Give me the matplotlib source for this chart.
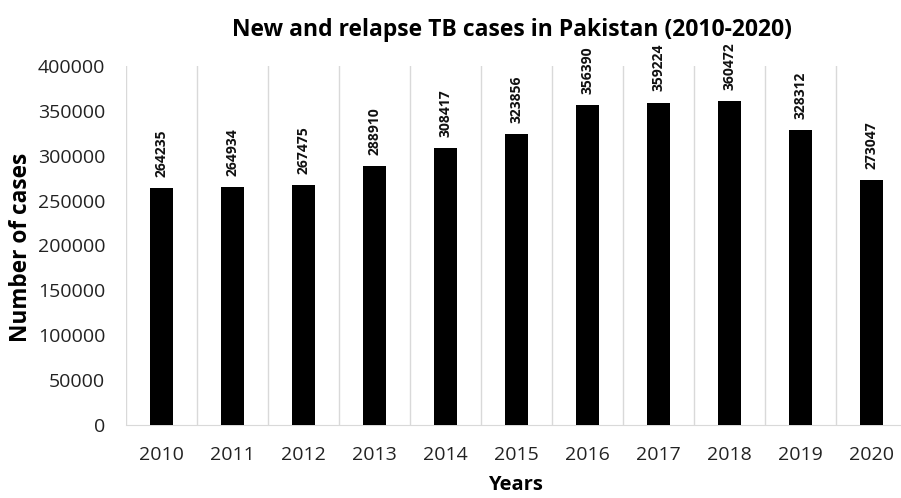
import matplotlib
matplotlib.use("Agg")
import matplotlib.pyplot as plt

years = ["2010", "2011", "2012", "2013", "2014", "2015", "2016", "2017", "2018", "2019", "2020"]
cases = [264235, 264934, 267475, 288910, 308417, 323856, 356390, 359224, 360472, 328312, 273047]
yticks = [0, 50000, 100000, 150000, 200000, 250000, 300000, 350000, 400000]

plt.rcParams['font.family'] = ['Open Sans', 'DejaVu Sans']

W, H = 901, 498
fig = plt.figure(figsize=(W / 100, H / 100), dpi=100)
left, right, top, bottom = 126, 907, 66, 425
ax = fig.add_axes([left / W, 1 - bottom / H, (right - left) / W, (bottom - top) / H])

x = list(range(len(years)))
ax.bar(x, cases, width=0.33, color='black', zorder=3)
ax.set_xlim(-0.5, len(years) - 0.5)
ax.set_ylim(0, 400000)
ax.set_yticks(yticks)
ax.set_yticklabels([str(v) for v in yticks], fontsize=14, color='#222222')
ax.set_xticks(x)
ax.set_xticklabels(years, fontsize=14, color='#222222')
ax.tick_params(axis='both', length=0)
ax.tick_params(axis='y', pad=15)
ax.tick_params(axis='x', pad=15)

for b in [i - 0.5 for i in range(len(years) + 1)]:
    ax.axvline(b, color='#d9d9d9', lw=1, zorder=1)

for s in ['top', 'right', 'left']:
    ax.spines[s].set_visible(False)
ax.spines['bottom'].set_color('#d9d9d9')

for xi, v in zip(x, cases):
    ax.annotate(str(v), (xi, v), xytext=(0, 8), textcoords='offset points',
                rotation=90, ha='center', va='bottom', fontsize=10,
                fontweight='bold', color='#111111')

fig.text(512 / W, 1 - 30 / H, "New and relapse TB cases in Pakistan (2010-2020)",
         ha='center', va='center', fontsize=16.5, fontweight='bold')
fig.text(21 / W, 1 - 247 / H, "Number of cases", rotation=90, ha='center', va='center',
         fontsize=16.3, fontweight='bold')
fig.text(515 / W, 1 - 485 / H, "Years", ha='center', va='center',
         fontsize=14.5, fontweight='bold')

fig.savefig("out.png", dpi=100)
